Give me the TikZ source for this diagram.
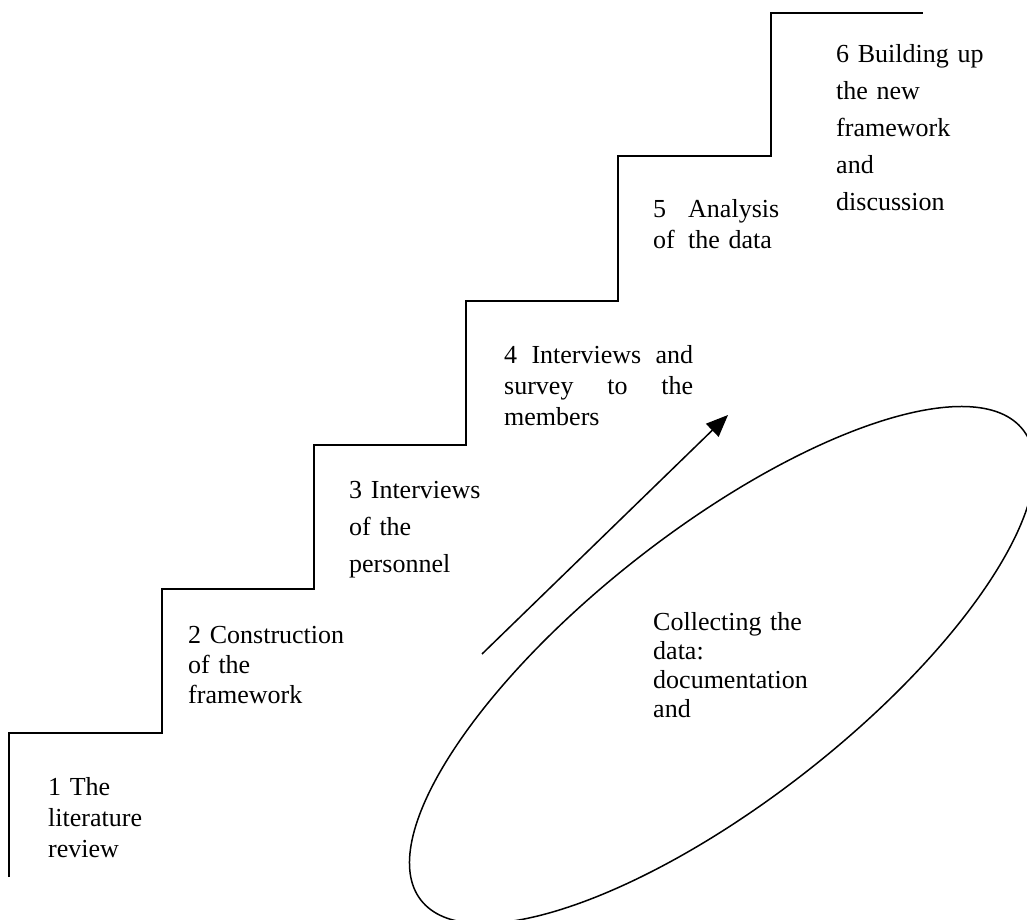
\documentclass[tikz,border=0pt]{standalone}
\usepackage{fontspec}
\setmainfont{Liberation Serif}
\usetikzlibrary{arrows.meta}
\tikzset{
  stairline/.style={line width=1.6pt, line join=miter},
  lbl/.style={inner sep=0pt, anchor=base west, align=left, text width=#1},
  lbl/.default=200pt,
  arrowline/.style={line width=1.5pt, -{Triangle[length=22pt,width=18pt]}},
  ellline/.style={line width=1.5pt}
}
\begin{document}
\begin{tikzpicture}[x=1pt,y=-1pt]
\useasboundingbox (0,0) rectangle (1027,920);
% staircase
\draw[stairline] (9,877) -- (9,733) -- (162,733) -- (162,589) -- (314,589)
  -- (314,445) -- (466,445) -- (466,301) -- (618,301) -- (618,156)
  -- (771,156) -- (771,13) -- (923,13);
% labels
\node[lbl, font=\fontsize{26}{31}\selectfont] (s1) at (48,795) {1 The\\literature\\review};
\node[lbl, font=\fontsize{26}{30}\selectfont] (s2) at (188,643) {2 Construction\\of the\\framework};
\node[lbl, font=\fontsize{26}{37}\selectfont] (s3) at (349,498) {3 Interviews\\of the\\personnel};
\node[lbl=189pt, font=\fontsize{26}{31}\selectfont] (s4) at (504,363) {4\hfill Interviews\hfill and\\survey\hfill to\hfill the\\members};
\node[lbl, font=\fontsize{26}{31}\selectfont] (s5) at (653,217) {\makebox[35pt][l]{5}Analysis\\\makebox[35pt][l]{of}the data};
\node[lbl, font=\fontsize{26}{37}\selectfont] (s6) at (836,63) {6 Building up\\the new\\framework\\and\\discussion};
\node[lbl, font=\fontsize{26}{29}\selectfont] (col) at (653,630) {Collecting the\\data:\\documentation\\and};
% arrow
\coordinate (arrS) at (482,654);
\coordinate (arrE) at (728,415);
\draw[arrowline] (arrS) -- (arrE);
% ellipse (clipped by the page)
\coordinate (ec) at (722,665);
\begin{scope}
\clip (0,0) rectangle (1027,920);
\draw[ellline, rotate around={38:(ec)}] (ec) ellipse [x radius=382pt, y radius=136pt];
\end{scope}
\end{tikzpicture}
\end{document}
